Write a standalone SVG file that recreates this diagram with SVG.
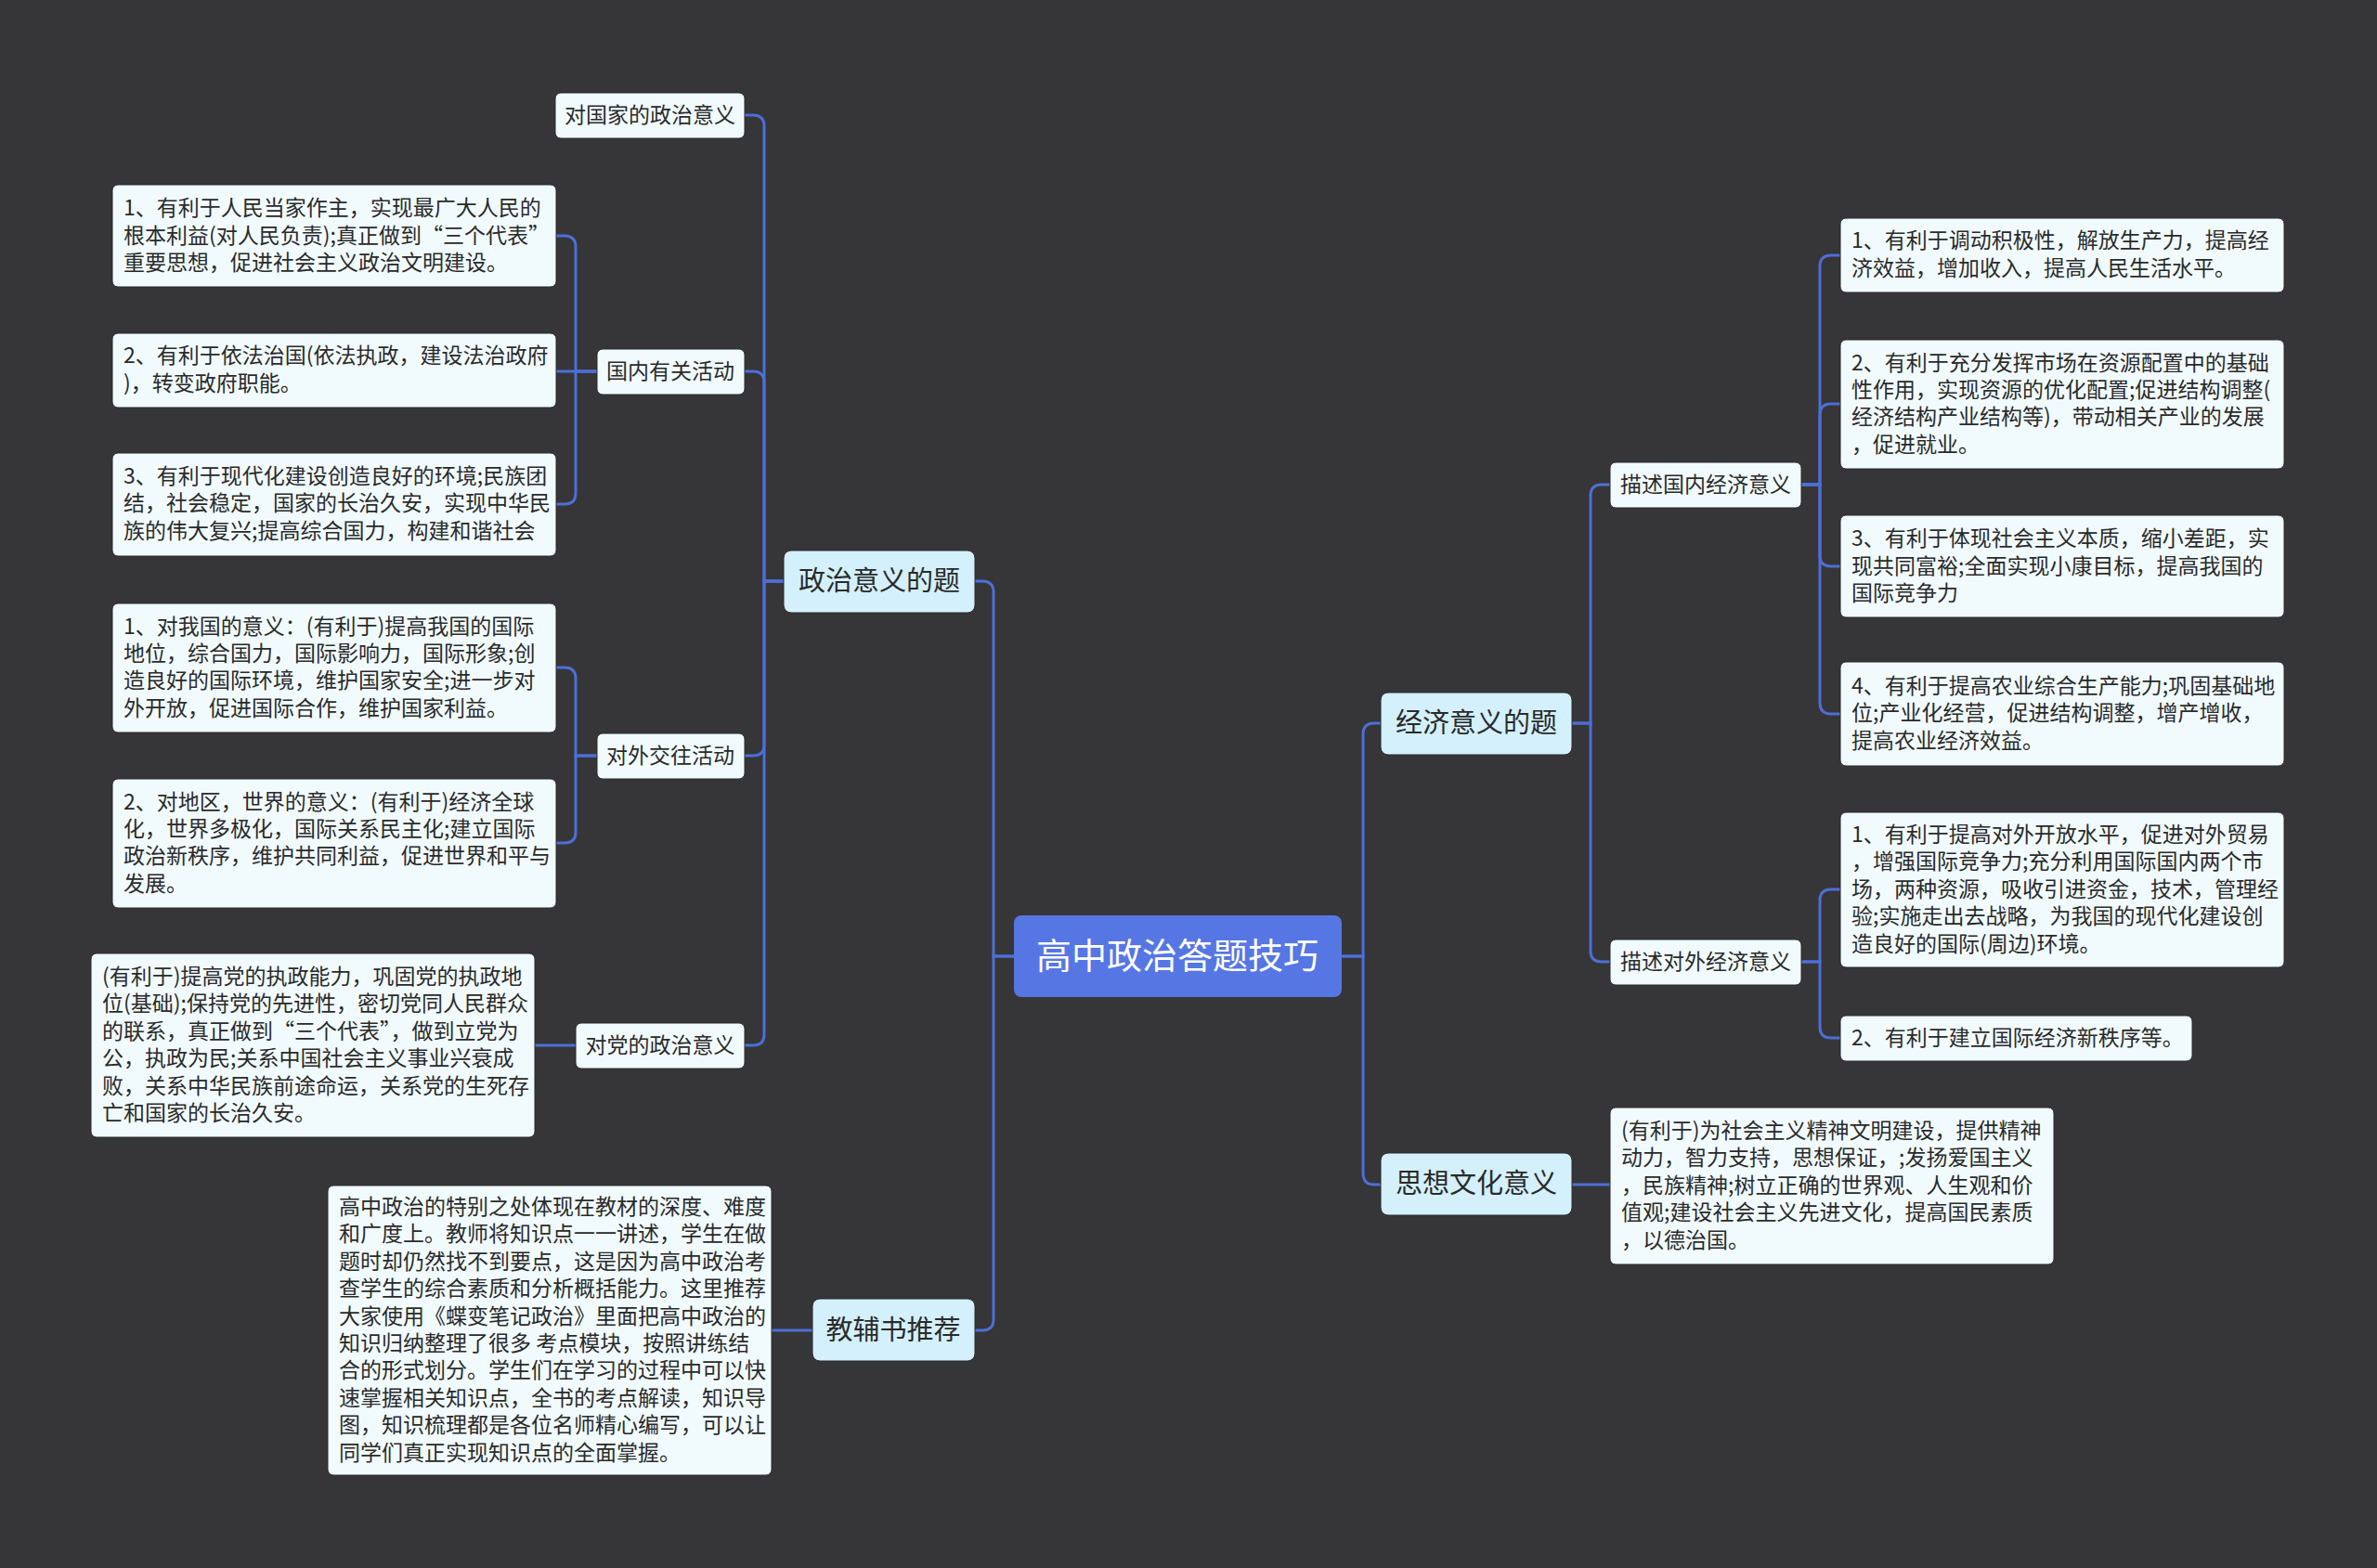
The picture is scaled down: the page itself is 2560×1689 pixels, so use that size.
<svg xmlns="http://www.w3.org/2000/svg" width="2560" height="1689" viewBox="0 0 2560 1689">
<style>
.c{fill:none;stroke:#4d6fd6;stroke-width:3}
.leaf{fill:#f1fbfe;stroke:#2b2b2e;stroke-width:1}
.l1{fill:#d3f0fc;stroke:#2b2b2e;stroke-width:1}
text{font-family:"Noto Sans CJK SC","Liberation Sans",sans-serif;fill:#2a2a2a}
.t{font-size:23px}
.m{text-anchor:middle}
.b{font-size:29px}
</style>
<rect width="2560" height="1689" fill="#363538"/>
<g id="connectors">
<path class="c" d="M1092,1030 H1070 V638 Q1070,626 1058,626 H1050"/>
<path class="c" d="M1092,1030 H1070 V1421 Q1070,1433 1058,1433 H1050"/>
<path class="c" d="M1445,1030 H1468 V791 Q1468,779 1480,779 H1487"/>
<path class="c" d="M1445,1030 H1468 V1264 Q1468,1276 1480,1276 H1487"/>
<path class="c" d="M844,626 H823 V136 Q823,124 811,124 H802"/>
<path class="c" d="M844,626 H823 V412 Q823,400 811,400 H802"/>
<path class="c" d="M844,626 H823 V802 Q823,814 811,814 H802"/>
<path class="c" d="M844,626 H823 V1114 Q823,1126 811,1126 H802"/>
<path class="c" d="M643,400 H620 V266 Q620,254 608,254 H599"/>
<path class="c" d="M643,400 H599"/>
<path class="c" d="M643,400 H620 V531 Q620,543 608,543 H599"/>
<path class="c" d="M643,814 H620 V731 Q620,719 608,719 H599"/>
<path class="c" d="M643,814 H620 V896 Q620,908 608,908 H599"/>
<path class="c" d="M620,1126 H576"/>
<path class="c" d="M875,1433 H831"/>
<path class="c" d="M1693,779 H1713 V534 Q1713,522 1725,522 H1734"/>
<path class="c" d="M1693,779 H1713 V1024 Q1713,1036 1725,1036 H1734"/>
<path class="c" d="M1940,522 H1960 V287 Q1960,275 1972,275 H1982"/>
<path class="c" d="M1940,522 H1960 V447 Q1960,435 1972,435 H1982"/>
<path class="c" d="M1940,522 H1960 V598 Q1960,610 1972,610 H1982"/>
<path class="c" d="M1940,522 H1960 V757 Q1960,769 1972,769 H1982"/>
<path class="c" d="M1940,1036 H1960 V970 Q1960,958 1972,958 H1982"/>
<path class="c" d="M1940,1036 H1960 V1106 Q1960,1118 1972,1118 H1982"/>
<path class="c" d="M1693,1276 H1734"/>
</g>
<g id="root"><rect x="1092" y="986" width="353" height="88" rx="8" fill="#5677e3"/><text x="1268" y="1043" class="m" style="font-size:38px;fill:#fff">高中政治答题技巧</text></g>
<g id="zz"><rect class="l1" x="844" y="593" width="206" height="67" rx="8"/><text x="947" y="636" class="m b">政治意义的题</text></g>
<g id="jj"><rect class="l1" x="1487" y="746" width="206" height="67" rx="8"/><text x="1590" y="789" class="m b">经济意义的题</text></g>
<g id="sx"><rect class="l1" x="1487" y="1242" width="206" height="67" rx="8"/><text x="1590" y="1285" class="m b">思想文化意义</text></g>
<g id="jf"><rect class="l1" x="875" y="1399" width="175" height="67" rx="8"/><text x="962" y="1443" class="m b">教辅书推荐</text></g>
<g id="dgj"><rect class="leaf" x="598" y="100" width="204" height="49" rx="6"/><text x="700" y="132" class="m t">对国家的政治意义</text></g>
<g id="gn"><rect class="leaf" x="643" y="376" width="159" height="49" rx="6"/><text x="722" y="408" class="m t">国内有关活动</text></g>
<g id="dw"><rect class="leaf" x="643" y="790" width="159" height="49" rx="6"/><text x="722" y="822" class="m t">对外交往活动</text></g>
<g id="dd"><rect class="leaf" x="620" y="1102" width="182" height="49" rx="6"/><text x="711" y="1134" class="m t">对党的政治意义</text></g>
<g id="L1"><rect class="leaf" x="121" y="199" width="478" height="110" rx="6"/><text class="t" x="133" y="232">1、有利于人民当家作主，实现最广大人民的<tspan x="133" y="262">根本利益(对人民负责);真正做到“三个代表”</tspan><tspan x="133" y="291">重要思想，促进社会主义政治文明建设。</tspan></text></g>
<g id="L2"><rect class="leaf" x="121" y="359" width="478" height="80" rx="6"/><text class="t" x="133" y="391">2、有利于依法治国(依法执政，建设法治政府<tspan x="133" y="421">)，转变政府职能。</tspan></text></g>
<g id="L3"><rect class="leaf" x="121" y="488" width="478" height="111" rx="6"/><text class="t" x="133" y="521">3、有利于现代化建设创造良好的环境;民族团<tspan x="133" y="550">结，社会稳定，国家的长治久安，实现中华民</tspan><tspan x="133" y="580">族的伟大复兴;提高综合国力，构建和谐社会</tspan></text></g>
<g id="L4"><rect class="leaf" x="121" y="650" width="478" height="139" rx="6"/><text class="t" x="133" y="683">1、对我国的意义：(有利于)提高我国的国际<tspan x="133" y="712">地位，综合国力，国际影响力，国际形象;创</tspan><tspan x="133" y="741">造良好的国际环境，维护国家安全;进一步对</tspan><tspan x="133" y="771">外开放，促进国际合作，维护国家利益。</tspan></text></g>
<g id="L5"><rect class="leaf" x="121" y="839" width="478" height="139" rx="6"/><text class="t" x="133" y="872">2、对地区，世界的意义：(有利于)经济全球<tspan x="133" y="901">化，世界多极化，国际关系民主化;建立国际</tspan><tspan x="133" y="930">政治新秩序，维护共同利益，促进世界和平与</tspan><tspan x="133" y="960">发展。</tspan></text></g>
<g id="L6"><rect class="leaf" x="98" y="1027" width="478" height="198" rx="6"/><text class="t" x="110" y="1060">(有利于)提高党的执政能力，巩固党的执政地<tspan x="110" y="1089">位(基础);保持党的先进性，密切党同人民群众</tspan><tspan x="110" y="1119">的联系，真正做到“三个代表”，做到立党为</tspan><tspan x="110" y="1148">公，执政为民;关系中国社会主义事业兴衰成</tspan><tspan x="110" y="1178">败，关系中华民族前途命运，关系党的生死存</tspan><tspan x="110" y="1207">亡和国家的长治久安。</tspan></text></g>
<g id="book"><rect class="leaf" x="353" y="1277" width="478" height="312" rx="6"/><text class="t" x="365" y="1308">高中政治的特别之处体现在教材的深度、难度<tspan x="365" y="1337">和广度上。教师将知识点一一讲述，学生在做</tspan><tspan x="365" y="1367">题时却仍然找不到要点，这是因为高中政治考</tspan><tspan x="365" y="1396">查学生的综合素质和分析概括能力。这里推荐</tspan><tspan x="365" y="1426">大家使用《蝶变笔记政治》里面把高中政治的</tspan><tspan x="365" y="1455">知识归纳整理了很多 考点模块，按照讲练结</tspan><tspan x="365" y="1484">合的形式划分。学生们在学习的过程中可以快</tspan><tspan x="365" y="1514">速掌握相关知识点，全书的考点解读，知识导</tspan><tspan x="365" y="1543">图，知识梳理都是各位名师精心编写，可以让</tspan><tspan x="365" y="1573">同学们真正实现知识点的全面掌握。</tspan></text></g>
<g id="gnjj"><rect class="leaf" x="1734" y="498" width="206" height="49" rx="6"/><text x="1837" y="530" class="m t">描述国内经济意义</text></g>
<g id="dwjj"><rect class="leaf" x="1734" y="1012" width="206" height="49" rx="6"/><text x="1837" y="1044" class="m t">描述对外经济意义</text></g>
<g id="R1"><rect class="leaf" x="1982" y="235" width="478" height="80" rx="6"/><text class="t" x="1994" y="267">1、有利于调动积极性，解放生产力，提高经<tspan x="1994" y="297">济效益，增加收入，提高人民生活水平。</tspan></text></g>
<g id="R2"><rect class="leaf" x="1982" y="366" width="478" height="139" rx="6"/><text class="t" x="1994" y="399">2、有利于充分发挥市场在资源配置中的基础<tspan x="1994" y="428">性作用，实现资源的优化配置;促进结构调整(</tspan><tspan x="1994" y="457">经济结构产业结构等)，带动相关产业的发展</tspan><tspan x="1994" y="487">，促进就业。</tspan></text></g>
<g id="R3"><rect class="leaf" x="1982" y="555" width="478" height="110" rx="6"/><text class="t" x="1994" y="588">3、有利于体现社会主义本质，缩小差距，实<tspan x="1994" y="618">现共同富裕;全面实现小康目标，提高我国的</tspan><tspan x="1994" y="647">国际竞争力</tspan></text></g>
<g id="R4"><rect class="leaf" x="1982" y="713" width="478" height="112" rx="6"/><text class="t" x="1994" y="747">4、有利于提高农业综合生产能力;巩固基础地<tspan x="1994" y="776">位;产业化经营，促进结构调整，增产增收，</tspan><tspan x="1994" y="806">提高农业经济效益。</tspan></text></g>
<g id="R5"><rect class="leaf" x="1982" y="875" width="478" height="167" rx="6"/><text class="t" x="1994" y="907">1、有利于提高对外开放水平，促进对外贸易<tspan x="1994" y="936">，增强国际竞争力;充分利用国际国内两个市</tspan><tspan x="1994" y="966">场，两种资源，吸收引进资金，技术，管理经</tspan><tspan x="1994" y="995">验;实施走出去战略，为我国的现代化建设创</tspan><tspan x="1994" y="1025">造良好的国际(周边)环境。</tspan></text></g>
<g id="R6"><rect class="leaf" x="1982" y="1094" width="379" height="49" rx="6"/><text class="t" x="1994" y="1126">2、有利于建立国际经济新秩序等。</text></g>
<g id="T1"><rect class="leaf" x="1734" y="1193" width="478" height="169" rx="6"/><text class="t" x="1746" y="1226">(有利于)为社会主义精神文明建设，提供精神<tspan x="1746" y="1255">动力，智力支持，思想保证，;发扬爱国主义</tspan><tspan x="1746" y="1285">，民族精神;树立正确的世界观、人生观和价</tspan><tspan x="1746" y="1314">值观;建设社会主义先进文化，提高国民素质</tspan><tspan x="1746" y="1344">，以德治国。</tspan></text></g>
</svg>
